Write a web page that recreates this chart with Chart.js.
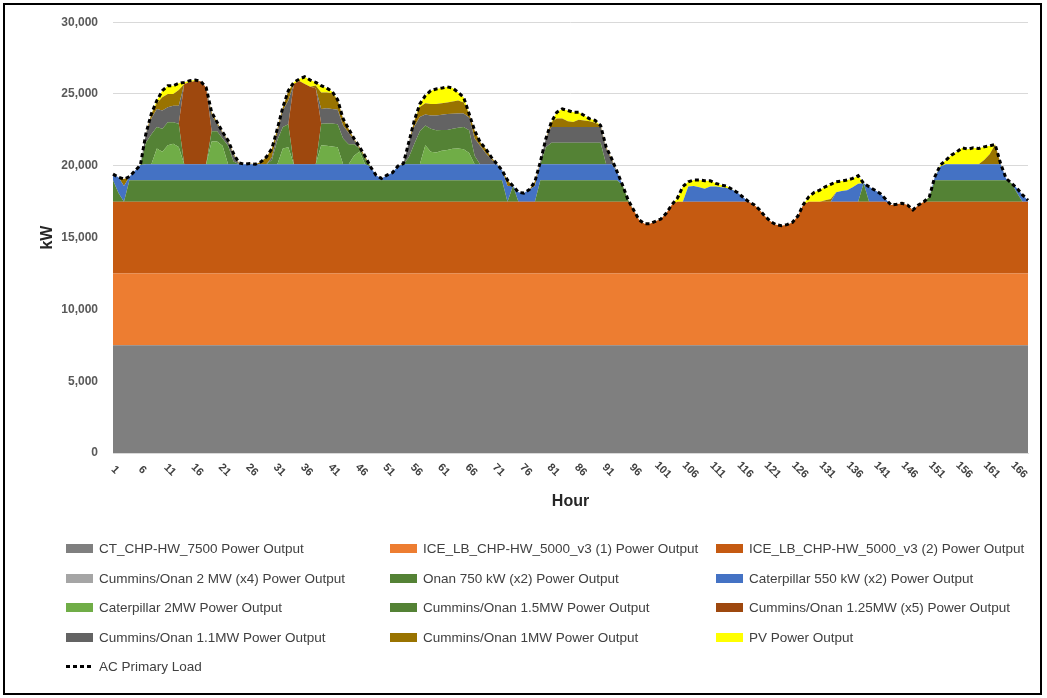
<!DOCTYPE html>
<html>
<head>
<meta charset="utf-8">
<title>Hourly Power Output</title>
<script src="https://cdn.jsdelivr.net/npm/chart.js@4.4.1/dist/chart.umd.min.js"></script>
<style>
  html, body { margin: 0; padding: 0; background: #fff; }
  #wrap { position: relative; width: 1047px; height: 698px; overflow: hidden; background: #fff; }
  #chart { position: absolute; left: 0; top: 0; }
  #frame { position: absolute; left: 3px; top: 3px; width: 1035px; height: 688px; border: 2px solid #000; pointer-events: none; }
  #legend { position: absolute; left: 0; top: 0; width: 1047px; height: 698px; pointer-events: none;
            font-family: "Liberation Sans", Arial, sans-serif; font-size: 13.5px; color: #404040; }
  .item { position: absolute; height: 18px; display: flex; align-items: center; white-space: nowrap; }
  .sw { width: 27px; height: 9px; margin-right: 6px; flex: none; }
  .sw.dash { height: 3px; background: repeating-linear-gradient(90deg, #000 0 4px, transparent 4px 7px); }
</style>
</head>
<body>
<div id="wrap">
  <canvas id="chart" width="1047" height="698"></canvas>
  <div id="legend"></div>
  <div id="frame"></div>
</div>
<script>
// Hour of the week (x categories / tick labels)
const hours = [
  1,2,3,4,5,6,7,8,9,10,11,12,13,14,15,16,17,18,19,20,21,22,23,24,
  25,26,27,28,29,30,31,32,33,34,35,36,37,38,39,40,41,42,43,44,45,46,47,48,
  49,50,51,52,53,54,55,56,57,58,59,60,61,62,63,64,65,66,67,68,69,70,71,72,
  73,74,75,76,77,78,79,80,81,82,83,84,85,86,87,88,89,90,91,92,93,94,95,96,
  97,98,99,100,101,102,103,104,105,106,107,108,109,110,111,112,113,114,115,116,117,118,119,120,
  121,122,123,124,125,126,127,128,129,130,131,132,133,134,135,136,137,138,139,140,141,142,143,144,
  145,146,147,148,149,150,151,152,153,154,155,156,157,158,159,160,161,162,163,164,165,166,167,168
];

const yTicks = [0, 5000, 10000, 15000, 20000, 25000, 30000];

// Generator outputs, kW per hour
const ctChp7500 = [
  7500,7500,7500,7500,7500,7500,7500,7500,7500,7500,7500,7500,
  7500,7500,7500,7500,7500,7500,7500,7500,7500,7500,7500,7500,
  7500,7500,7500,7500,7500,7500,7500,7500,7500,7500,7500,7500,
  7500,7500,7500,7500,7500,7500,7500,7500,7500,7500,7500,7500,
  7500,7500,7500,7500,7500,7500,7500,7500,7500,7500,7500,7500,
  7500,7500,7500,7500,7500,7500,7500,7500,7500,7500,7500,7500,
  7500,7500,7500,7500,7500,7500,7500,7500,7500,7500,7500,7500,
  7500,7500,7500,7500,7500,7500,7500,7500,7500,7500,7500,7500,
  7500,7500,7500,7500,7500,7500,7500,7500,7500,7500,7500,7500,
  7500,7500,7500,7500,7500,7500,7500,7500,7500,7500,7500,7500,
  7500,7500,7500,7500,7500,7500,7500,7500,7500,7500,7500,7500,
  7500,7500,7500,7500,7500,7500,7500,7500,7500,7500,7500,7500,
  7500,7500,7500,7500,7500,7500,7500,7500,7500,7500,7500,7500,
  7500,7500,7500,7500,7500,7500,7500,7500,7500,7500,7500,7500
];

const iceLb1 = [
  5000,5000,5000,5000,5000,5000,5000,5000,5000,5000,5000,5000,
  5000,5000,5000,5000,5000,5000,5000,5000,5000,5000,5000,5000,
  5000,5000,5000,5000,5000,5000,5000,5000,5000,5000,5000,5000,
  5000,5000,5000,5000,5000,5000,5000,5000,5000,5000,5000,5000,
  5000,5000,5000,5000,5000,5000,5000,5000,5000,5000,5000,5000,
  5000,5000,5000,5000,5000,5000,5000,5000,5000,5000,5000,5000,
  5000,5000,5000,5000,5000,5000,5000,5000,5000,5000,5000,5000,
  5000,5000,5000,5000,5000,5000,5000,5000,5000,5000,5000,5000,
  5000,5000,5000,5000,5000,5000,5000,5000,5000,5000,5000,5000,
  5000,5000,5000,5000,5000,5000,5000,5000,5000,5000,5000,5000,
  5000,5000,5000,5000,5000,5000,5000,5000,5000,5000,5000,5000,
  5000,5000,5000,5000,5000,5000,5000,5000,5000,5000,5000,5000,
  5000,5000,5000,5000,5000,5000,5000,5000,5000,5000,5000,5000,
  5000,5000,5000,5000,5000,5000,5000,5000,5000,5000,5000,5000
];

const iceLb2 = [
  5000,5000,5000,5000,5000,5000,5000,5000,5000,5000,5000,5000,
  5000,5000,5000,5000,5000,5000,5000,5000,5000,5000,5000,5000,
  5000,5000,5000,5000,5000,5000,5000,5000,5000,5000,5000,5000,
  5000,5000,5000,5000,5000,5000,5000,5000,5000,5000,5000,5000,
  5000,5000,5000,5000,5000,5000,5000,5000,5000,5000,5000,5000,
  5000,5000,5000,5000,5000,5000,5000,5000,5000,5000,5000,5000,
  5000,5000,5000,5000,5000,5000,5000,5000,5000,5000,5000,5000,
  5000,5000,5000,5000,5000,5000,5000,5000,5000,5000,5000,4440,
  3740,3470,3470,3630,3790,4210,4790,5000,5000,5000,5000,5000,
  5000,5000,5000,5000,5000,5000,5000,5000,5000,4790,4440,3980,
  3630,3400,3330,3400,3560,4000,4800,5000,5000,5000,5000,5000,
  5000,5000,5000,5000,5000,5000,5000,5000,5000,5000,4770,4820,
  4890,4770,4430,4770,5000,5000,5000,5000,5000,5000,5000,5000,
  5000,5000,5000,5000,5000,5000,5000,5000,5000,5000,5000,5000
];

const cumminsOnan2mw = [
  0,0,0,0,0,0,0,0,0,0,0,0, 0,0,0,0,0,0,0,0,0,0,0,0,
  0,0,0,0,0,0,0,0,0,0,0,0, 0,0,0,0,0,0,0,0,0,0,0,0,
  0,0,0,0,0,0,0,0,0,0,0,0, 0,0,0,0,0,0,0,0,0,0,0,0,
  0,0,0,0,0,0,0,0,0,0,0,0, 0,0,0,0,0,0,0,0,0,0,0,0,
  0,0,0,0,0,0,0,0,0,0,0,0, 0,0,0,0,0,0,0,0,0,0,0,0,
  0,0,0,0,0,0,0,0,0,0,0,0, 0,0,0,0,0,0,0,0,0,0,0,0,
  0,0,0,0,0,0,0,0,0,0,0,0, 0,0,0,0,0,0,0,0,0,0,0,0
];

const onan750 = [
  1500,600,0,1500,1500,1500,1500,1500,1500,1500,1500,1500,
  1500,1500,1500,1500,1500,1500,1500,1500,1500,1500,1500,1500,
  1500,1500,1500,1500,1500,1500,1500,1500,1500,1500,1500,1500,
  1500,1500,1500,1500,1500,1500,1500,1500,1500,1500,1500,1500,
  1500,1500,1500,1500,1500,1500,1500,1500,1500,1500,1500,1500,
  1500,1500,1500,1500,1500,1500,1500,1500,1500,1500,1500,1500,
  0,1100,0,0,0,0,1500,1500,1500,1500,1500,1500,
  1500,1500,1500,1500,1500,1500,1500,1500,1500,1160,130,0,
  0,0,0,0,0,0,0,0,0,0,0,0,
  0,0,0,0,0,0,0,0,0,0,0,0,
  0,0,0,0,0,0,0,0,0,0,0,0,
  0,0,0,0,0,1280,0,0,0,0,0,0,
  0,0,0,0,0,350,1500,1500,1500,1500,1500,1500,
  1500,1500,1500,1500,1500,1500,1500,1500,1280,600,0,0
];

const caterpillar550 = [
  420,1100,1100,240,650,1050,1100,1100,1100,1100,1100,1100,
  1100,1100,1100,1100,1100,1100,1100,1100,1100,1100,1100,1100,
  1100,1100,1100,1100,1100,1100,1100,1100,1100,1100,1100,1100,
  1100,1100,1100,1100,1100,1100,1100,1100,1100,1100,1100,930,
  350,120,350,520,980,1100,1100,1100,1100,1100,1100,1100,
  1100,1100,1100,1100,1100,1100,1100,1100,1100,1100,1100,700,
  1100,0,650,600,850,1100,1100,1100,1100,1100,1100,1100,
  1100,1100,1100,1100,1100,1100,1100,1100,590,0,0,0,
  0,0,0,0,0,0,0,0,0,1050,1100,1000,
  900,1050,1050,1000,950,850,630,310,10,0,0,0,
  0,0,0,0,0,0,0,0,0,0,0,0,
  650,750,800,1000,1250,0,1040,810,580,190,0,0,
  0,0,0,0,0,0,240,950,1100,1100,1100,1100,
  1100,1100,1100,1100,1100,1100,1100,120,0,330,470,100
];

const caterpillar2mw = [
  0,0,0,0,0,0,0,0,1100,870,1330,1440,
  1210,0,0,0,0,0,1600,1600,1300,0,0,0,
  0,0,0,0,0,0,0,1100,1200,0,0,0,
  0,0,1330,1300,1250,1200,0,0,600,900,0,0,
  0,0,0,0,0,0,0,0,0,1330,870,820,
  950,1000,1080,1100,1050,800,0,0,0,0,0,0,
  0,0,0,0,0,0,0,0,0,0,0,0, 0,0,0,0,0,0,0,0,0,0,0,0,
  0,0,0,0,0,0,0,0,0,0,0,0, 0,0,0,0,0,0,0,0,0,0,0,0,
  0,0,0,0,0,0,0,0,0,0,0,0, 0,0,0,0,0,0,0,0,0,0,0,0,
  0,0,0,0,0,0,0,0,0,0,0,0, 0,0,0,0,0,0,0,0,0,0,0,0
];

const cumminsOnan15mw = [
  0,0,0,0,0,0,1500,2100,1500,1610,1610,1500,
  1620,0,0,0,0,0,700,700,500,1300,200,0,
  0,0,0,0,0,300,1700,1500,1600,0,0,0,
  0,0,1500,1550,1600,1600,1800,1400,800,200,400,0,
  0,0,0,0,0,0,500,1440,2300,1380,1610,1560,
  1450,1400,1400,1450,1550,1570,600,0,0,0,0,0,
  0,0,0,0,0,0,0,1200,1500,1500,1500,1500,
  1500,1500,1500,1500,1500,1500,0,0,0,0,0,0,
  0,0,0,0,0,0,0,0,0,0,0,0, 0,0,0,0,0,0,0,0,0,0,0,0,
  0,0,0,0,0,0,0,0,0,0,0,0, 0,0,0,0,0,0,0,0,0,0,0,0,
  0,0,0,0,0,0,0,0,0,0,0,0, 0,0,0,0,0,0,0,0,0,0,0,0
];

const cumminsOnan125mw = [
  0,0,0,0,0,0,0,0,0,0,0,0,
  0,5600,5710,5800,5780,5360,0,0,0,0,0,0,
  0,0,0,0,0,0,0,0,0,5600,5800,5600,
  5400,5300,0,0,0,0,0,0,0,0,0,0,
  0,0,0,0,0,0,0,0,0,0,0,0, 0,0,0,0,0,0,0,0,0,0,0,0,
  0,0,0,0,0,0,0,0,0,0,0,0, 0,0,0,0,0,0,0,0,0,0,0,0,
  0,0,0,0,0,0,0,0,0,0,0,0, 0,0,0,0,0,0,0,0,0,0,0,0,
  0,0,0,0,0,0,0,0,0,0,0,0, 0,0,0,0,0,0,0,0,0,0,0,0,
  0,0,0,0,0,0,0,0,0,0,0,0, 0,0,0,0,0,0,0,0,0,0,0,0
];

const cumminsOnan11mw = [
  0,0,0,0,0,0,630,1100,1260,1270,1040,1150,
  1260,0,0,0,0,0,1100,500,400,270,450,0,
  0,0,0,0,0,200,500,1150,1640,0,0,0,
  0,0,1030,1050,1000,1000,900,800,300,0,0,0,
  0,0,0,0,0,0,1060,1200,1000,760,920,1020,
  1050,1100,1050,1000,950,900,1200,1300,800,350,0,0,
  0,0,0,0,0,0,180,590,1100,1100,1100,1100,
  1100,1100,1100,1100,1100,1100,1100,300,0,0,0,0,
  0,0,0,0,0,0,0,0,0,0,0,0, 0,0,0,0,0,0,0,0,0,0,0,0,
  0,0,0,0,0,0,0,0,0,0,0,0, 0,0,0,0,0,0,0,0,0,0,0,0,
  0,0,0,0,0,0,0,0,0,0,0,0, 0,0,0,0,0,0,0,0,0,0,0,0
];

const cumminsOnan1mw = [
  0,0,480,0,0,0,0,320,400,920,920,810,
  1090,0,0,0,0,0,230,140,50,100,100,100,
  10,60,10,180,520,600,280,230,690,0,0,0,
  0,200,1150,1100,1100,700,470,280,90,110,170,0,
  0,0,0,0,0,60,0,420,700,780,810,810,
  800,800,850,900,750,250,560,260,300,170,60,0,
  400,0,0,0,0,300,0,0,340,600,600,400,
  350,500,450,400,300,110,110,110,0,0,0,0,
  0,0,0,0,0,0,0,0,0,0,0,0,
  0,0,0,0,0,0,0,0,0,0,0,0,
  0,0,0,0,0,0,0,0,0,0,100,190,
  0,0,0,0,0,0,0,0,0,0,0,0,
  0,0,0,0,0,0,0,0,0,0,0,0,
  0,0,0,300,700,1380,60,0,0,0,0,0
];

const pvOutput = [
  0,0,0,0,0,0,0,0,180,460,580,580,
  460,110,110,70,0,0,0,0,0,0,0,0,
  0,0,0,0,0,0,0,0,0,110,140,500,
  470,210,470,310,130,0,0,0,0,0,0,0,
  0,0,0,0,0,0,0,0,210,530,920,1040,
  1060,1100,930,560,370,0,0,0,0,0,0,0,
  0,0,0,0,0,0,0,0,0,430,660,750,
  680,530,350,170,160,0,0,0,0,0,0,0,
  0,0,0,0,0,0,0,240,1050,340,410,510,
  560,410,230,160,140,10,0,0,0,0,0,0,
  0,0,0,0,0,0,0,350,650,810,940,1020,
  740,690,710,620,560,0,0,0,0,0,0,0,
  0,0,0,0,0,0,0,100,290,640,870,1150,
  1060,1150,1100,920,590,0,0,0,0,0,0,0
];

// Site demand, kW per hour
const acPrimaryLoad = [
  19420,19200,19080,19240,19650,20050,22230,23620,24540,25230,25580,25580,
  25740,25810,25920,25970,25880,25460,23730,23040,22350,21770,20850,20200,
  20110,20160,20110,20280,20620,21200,22580,24080,25230,25810,26040,26200,
  25970,25810,25580,25410,25180,24600,23270,22580,21890,21310,20670,19930,
  19350,19120,19350,19520,19980,20160,21660,23160,24310,24880,25230,25350,
  25410,25500,25410,25110,24770,23620,22460,21660,21200,20620,20160,19700,
  19000,18600,18150,18100,18350,18900,20280,21890,23040,23730,23960,23850,
  23730,23730,23500,23270,23160,22810,21310,20510,19590,18660,17630,16940,
  16240,15970,15970,16130,16290,16710,17290,17740,18550,18890,19010,19010,
  18960,18960,18780,18660,18590,18360,18130,17810,17510,17290,16940,16480,
  16130,15900,15830,15900,16060,16500,17300,17850,18150,18310,18540,18710,
  18890,18940,19010,19120,19310,18780,18540,18310,18080,17690,17270,17320,
  17390,17270,16930,17270,17500,17850,19240,20050,20390,20740,20970,21250,
  21160,21250,21200,21320,21390,21480,20160,19120,18780,18430,17970,17600
];

// Stacked layers, bottom to top
const layers = [
  { label: 'CT_CHP-HW_7500 Power Output',              data: ctChp7500,        color: '#7F7F7F' },
  { label: 'ICE_LB_CHP-HW_5000_v3 (1) Power Output',   data: iceLb1,           color: '#ED7D31' },
  { label: 'ICE_LB_CHP-HW_5000_v3 (2) Power Output',   data: iceLb2,           color: '#C55A11' },
  { label: 'Cummins/Onan 2 MW (x4) Power Output',      data: cumminsOnan2mw,   color: '#A5A5A5' },
  { label: 'Onan 750 kW (x2) Power Output',            data: onan750,          color: '#548235' },
  { label: 'Caterpillar 550 kW (x2) Power Output',     data: caterpillar550,   color: '#4472C4' },
  { label: 'Caterpillar 2MW Power Output',             data: caterpillar2mw,   color: '#70AD47' },
  { label: 'Cummins/Onan 1.5MW Power Output',          data: cumminsOnan15mw,  color: '#548235' },
  { label: 'Cummins/Onan 1.25MW (x5) Power Output',    data: cumminsOnan125mw, color: '#9E480E' },
  { label: 'Cummins/Onan 1.1MW Power Output',          data: cumminsOnan11mw,  color: '#636363' },
  { label: 'Cummins/Onan 1MW Power Output',            data: cumminsOnan1mw,   color: '#997300' },
  { label: 'PV Power Output',                          data: pvOutput,         color: '#FFFF00' }
];

const datasets = layers.map((l, i) => ({
  label: l.label,
  data: l.data,
  backgroundColor: l.color,
  borderColor: 'transparent',
  borderWidth: 0,
  pointRadius: 0,
  pointHoverRadius: 0,
  tension: 0,
  fill: i === 0 ? 'origin' : '-1',
  yAxisID: 'y'
}));

datasets.push({
  label: 'AC Primary Load',
  data: acPrimaryLoad,
  borderColor: '#000000',
  backgroundColor: '#000000',
  borderWidth: 3,
  borderDash: [4, 3],
  pointRadius: 0,
  pointHoverRadius: 0,
  tension: 0,
  fill: false,
  yAxisID: 'yLoad',
  order: -1,
  isLoad: true
});

// Hour labels every 5 hours, slanted downward to the right
const hourLabels = {
  id: 'hourLabels',
  afterDraw(chart) {
    const { ctx } = chart;
    const x = chart.scales.x;
    ctx.save();
    ctx.font = 'bold 11px "Liberation Sans", Arial, sans-serif';
    ctx.fillStyle = '#404040';
    ctx.textAlign = 'center';
    ctx.textBaseline = 'middle';
    hours.forEach((h, i) => {
      if (i % 5 !== 0) return;
      const px = x.getPixelForValue(i);
      ctx.save();
      ctx.translate(px + 2, chart.chartArea.bottom + 17);
      ctx.rotate(Math.PI / 4);
      ctx.fillText(String(h), 0, 0);
      ctx.restore();
    });
    ctx.restore();
  }
};

const chart = new Chart(document.getElementById('chart'), {
  type: 'line',
  data: { labels: hours, datasets },
  options: {
    responsive: false,
    animation: false,
    events: [],
    layout: { padding: { top: 20, right: 19, bottom: 0, left: 0 } },
    plugins: { legend: { display: false }, tooltip: { enabled: false } },
    scales: {
      x: {
        type: 'category',
        offset: false,
        grid: { display: false },
        border: { display: true, color: '#D9D9D9' },
        ticks: { display: false },
        title: {
          display: true, text: 'Hour', color: '#262626',
          font: { family: '"Liberation Sans", Arial, sans-serif', size: 16, weight: 'bold' },
          padding: { top: 0, bottom: 187 }
        },
        afterFit(s) { s.height = 245; }
      },
      y: {
        stacked: true,
        min: yTicks[0],
        max: yTicks[yTicks.length - 1],
        afterBuildTicks(s) { s.ticks = yTicks.map(v => ({ value: v })); },
        grid: { color: '#D9D9D9', drawTicks: false },
        border: { display: false },
        ticks: {
          padding: 15,
          color: '#595959',
          font: { family: '"Liberation Sans", Arial, sans-serif', size: 12, weight: 'bold' },
          callback: v => Number(v).toLocaleString('en-US')
        },
        title: {
          display: true, text: 'kW', color: '#262626',
          font: { family: '"Liberation Sans", Arial, sans-serif', size: 16, weight: 'bold' },
          padding: { top: 38, bottom: 0 }
        },
        afterFit(s) { s.width = 113; }
      },
      yLoad: {
        display: false,
        stacked: false,
        min: yTicks[0],
        max: yTicks[yTicks.length - 1]
      }
    }
  },
  plugins: [hourLabels]
});

// Legend in three columns under the plot
const legendCols = [66, 390, 716];
const legendRows = [548, 578, 607, 637, 666];
const legendEl = document.getElementById('legend');
chart.data.datasets.forEach((ds, i) => {
  const item = document.createElement('div');
  item.className = 'item';
  item.style.left = legendCols[i % 3] + 'px';
  item.style.top = (legendRows[Math.floor(i / 3)] - 9) + 'px';
  const sw = document.createElement('span');
  sw.className = ds.isLoad ? 'sw dash' : 'sw';
  if (!ds.isLoad) sw.style.background = ds.backgroundColor;
  const tx = document.createElement('span');
  tx.textContent = ds.label;
  item.appendChild(sw);
  item.appendChild(tx);
  legendEl.appendChild(item);
});
</script>
</body>
</html>
